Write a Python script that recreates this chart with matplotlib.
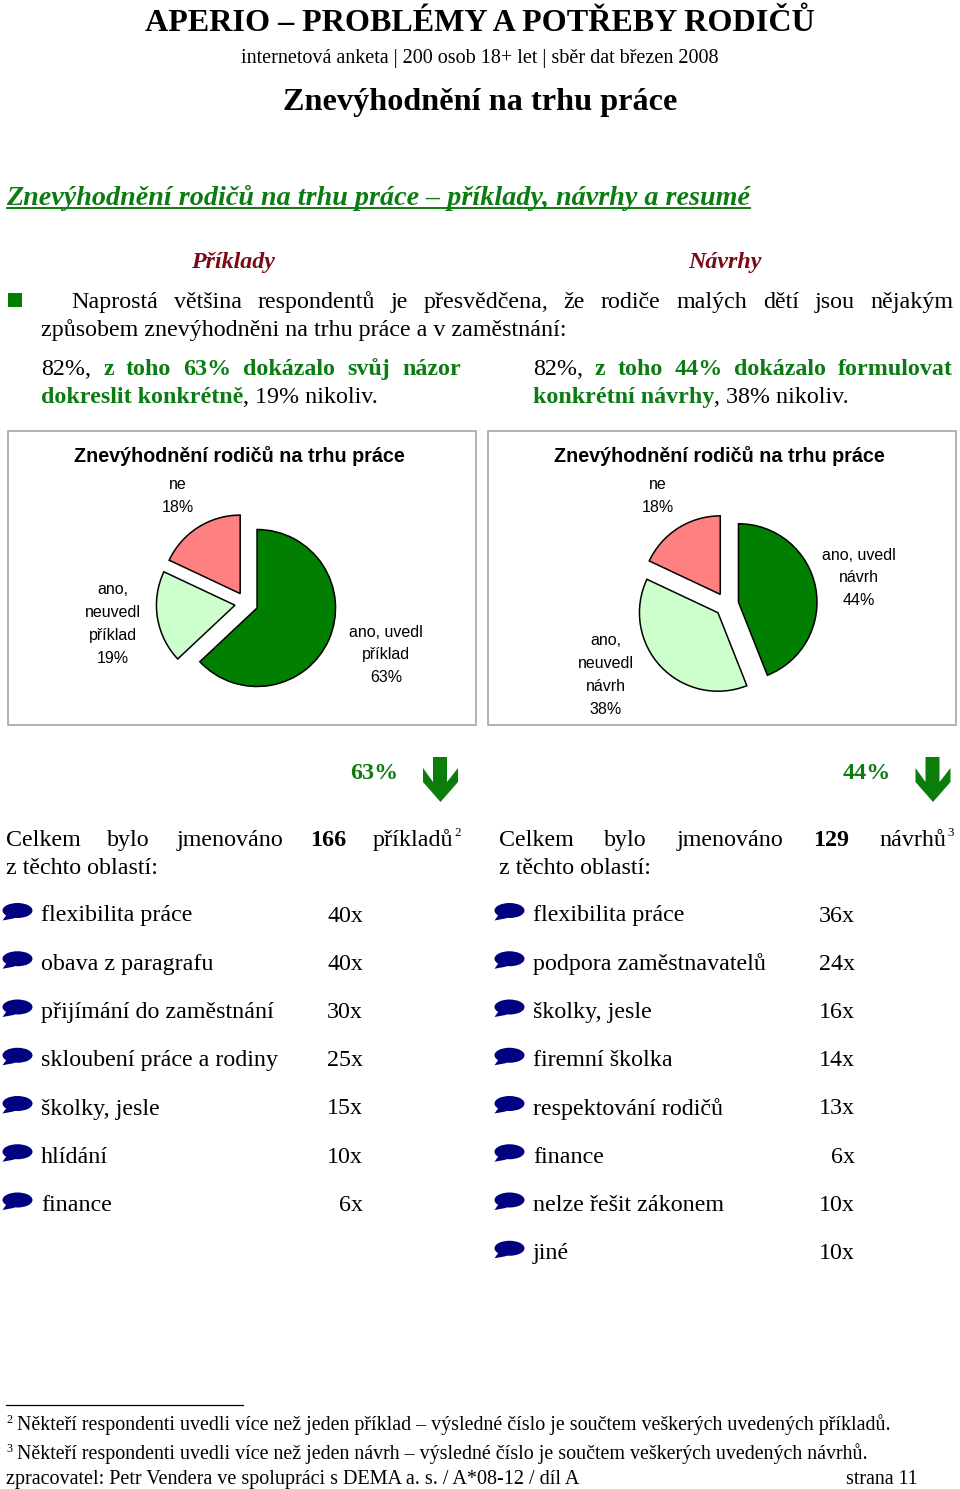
import matplotlib
matplotlib.use("Agg")
import matplotlib.pyplot as plt
from matplotlib.patches import Ellipse, Polygon, Rectangle

W, H = 960, 1489
SERIF = "Liberation Serif"
SANS = "Liberation Sans"
GREEN = "#0a7c12"
DARK_RED = "#7a0a16"
NAVY = "#000080"

# pie data
pie_colors = ["#007f00", "#ccffcc", "#ff8080"]
left_values = [63, 19, 18]
right_values = [44, 38, 18]
left_labels = ["ano, uvedl\npříklad\n63%", "ano,\nneuvedl\npříklad\n19%", "ne\n18%"]
right_labels = ["ano, uvedl\nnávrh\n44%", "ano,\nneuvedl\nnávrh\n38%", "ne\n18%"]

# list data
left_items = ["flexibilita práce", "obava z paragrafu", "přijímání do zaměstnání",
              "skloubení práce a rodiny", "školky, jesle", "hlídání", "finance"]
left_counts = [40, 40, 30, 25, 15, 10, 6]
right_items = ["flexibilita práce", "podpora zaměstnavatelů", "školky, jesle", "firemní školka",
               "respektování rodičů", "finance", "nelze řešit zákonem", "jiné"]
right_counts = [36, 24, 16, 14, 13, 6, 10, 10]

fig = plt.figure(figsize=(W / 100, H / 100), dpi=100)
ax = fig.add_axes([0, 0, 1, 1])
ax.set_xlim(0, W)
ax.set_ylim(H, 0)
ax.axis("off")

# second axes with y going up, pie angles stay normal there
pie_ax = fig.add_axes([0, 0, 1, 1])
pie_ax.set_xlim(0, W)
pie_ax.set_ylim(0, H)
pie_ax.axis("off")
pie_ax.patch.set_alpha(0)


def txt(x, y, s, size=17, family=SERIF, **kw):
    kw.setdefault("va", "baseline")
    kw.setdefault("color", "black")
    return ax.text(x, y, s, fontsize=size * 0.72, family=family, **kw)


def justified(words, x0, x1, y, size=24):
    # words spread out between x0 and x1, like the justified paragraphs in the source
    rend = fig.canvas.get_renderer()
    items = []
    for w in words:
        s, style = w if isinstance(w, tuple) else (w, {})
        items.append(txt(0, y, s, size, **style))
    widths = [t.get_window_extent(rend).width for t in items]
    gap = (x1 - x0 - sum(widths)) / (len(items) - 1)
    x = x0
    for t, w in zip(items, widths):
        t.set_x(x)
        x += w + gap


def pie_chart(values, cx, cy, explode):
    # explode is in data units here, so pixels
    pie_ax.pie(values, colors=pie_colors, radius=78.5, center=(cx, H - cy), startangle=90,
               counterclock=False, explode=[explode] * 3, frame=True,
               wedgeprops={"edgecolor": "black", "linewidth": 1.1})
    pie_ax.set_xlim(0, W)
    pie_ax.set_ylim(0, H)
    pie_ax.axis("off")


def bubble(cx, cy):
    ax.add_patch(Ellipse((cx, cy), 30, 15, color=NAVY, lw=0))
    ax.add_patch(Polygon([(cx - 10, cy + 3), (cx - 15, cy + 10), (cx - 4, cy + 8), (cx, cy + 5)],
                         color=NAVY, lw=0))


def arrow(x):
    pts = [(x + 10, 757), (x + 24, 757), (x + 24, 782), (x + 35, 768), (x + 35, 782),
           (x + 17.5, 802), (x, 782), (x, 768), (x + 10, 782)]
    ax.add_patch(Polygon(pts, color="#0a7d0a", lw=0))


# header
txt(480, 31, "APERIO – PROBLÉMY A POTŘEBY RODIČŮ", 32.2, ha="center", weight="bold")
txt(480, 63, "internetová anketa | 200 osob 18+ let | sběr dat březen 2008", 20.1, ha="center")
txt(480, 110, "Znevýhodnění na trhu práce", 32.3, ha="center", weight="bold")
txt(6.5, 205, "Znevýhodnění rodičů na trhu práce – příklady, návrhy a resumé", 28.1,
    color=GREEN, style="italic", weight="bold")
ax.plot([7, 750], [207.5, 207.5], color=GREEN, lw=1.4)
txt(233, 268, "Příklady", 24, ha="center", color=DARK_RED, style="italic", weight="bold")
txt(725, 268, "Návrhy", 24, ha="center", color=DARK_RED, style="italic", weight="bold")

# intro text
ax.add_patch(Rectangle((8, 293), 14, 14, color="#007f00", lw=0))
justified("Naprostá většina respondentů je přesvědčena, že rodiče malých dětí jsou nějakým".split(),
          71, 953, 308)
txt(41, 336, "způsobem znevýhodněni na trhu práce a v zaměstnání:", 24)

bold_green = {"color": GREEN, "weight": "bold"}
justified(["82%,"] + [(w, bold_green) for w in "z toho 63% dokázalo svůj názor".split()], 41, 461, 375)
t = txt(41, 403, "dokreslit konkrétně", 24, **bold_green)
fig.canvas.draw()
x_end = t.get_window_extent(fig.canvas.get_renderer()).x1
txt(x_end, 403, ", 19% nikoliv.", 24)
justified(["82%,"] + [(w, bold_green) for w in "z toho 44% dokázalo formulovat".split()], 533, 953, 375)
t = txt(533, 403, "konkrétní návrhy", 24, **bold_green)
x_end = t.get_window_extent(fig.canvas.get_renderer()).x1
txt(x_end, 403, ", 38% nikoliv.", 24)

# chart frames
for x0 in [8, 488]:
    ax.add_patch(Rectangle((x0, 431), 468, 294, fc="none", ec="#a6a6a6", lw=1.2))
    txt(x0 + 231.5, 462, "Znevýhodnění rodičů na trhu práce", 19.8, SANS, ha="center", weight="bold")

pie_chart(left_values, 246.4, 603.4, 11.6)
pie_chart(right_values, 726.7, 604.5, 12)

for (x, y), s in zip([(386, 655), (113, 624), (178, 496)], left_labels):
    txt(x, y, s, 16, SANS, ha="center", va="center", linespacing=1.64)
for (x, y), s in zip([(859, 578), (606, 675), (658, 496)], right_labels):
    txt(x, y, s, 16, SANS, ha="center", va="center", linespacing=1.64)

# percent + arrow
txt(374, 779, "63%", 24, ha="center", **bold_green)
txt(867, 779, "44%", 24, ha="center", **bold_green)
arrow(423)
arrow(915.5)

# totals
justified(["Celkem", "bylo", "jmenováno", ("166", {"weight": "bold"}), "příkladů"], 6, 453, 846)
txt(454, 836, "2", 13)
txt(6, 874, "z těchto oblastí:", 24)
justified(["Celkem", "bylo", "jmenováno", ("129", {"weight": "bold"}), "návrhů"], 499, 946, 846)
txt(947, 836, "3", 13)
txt(499, 874, "z těchto oblastí:", 24)

# lists
row_h = 48.25
for i, (name, n) in enumerate(zip(left_items, left_counts)):
    y = 921.5 + i * row_h
    bubble(17.5, y - 11)
    txt(41, y, name, 24)
    txt(363, y, f"{n}x", 24, ha="right")
for i, (name, n) in enumerate(zip(right_items, right_counts)):
    y = 921.5 + i * row_h
    bubble(509.5, y - 11)
    txt(533, y, name, 24)
    txt(855, y, f"{n}x", 24, ha="right")

# footnotes
ax.plot([6, 243], [1405, 1405], color="black", lw=0.9)
txt(6, 1423, "2", 12)
txt(17, 1430, "Někteří respondenti uvedli více než jeden příklad – výsledné číslo je součtem veškerých uvedených příkladů.", 20.05)
txt(6, 1452, "3", 12)
txt(17, 1459, "Někteří respondenti uvedli více než jeden návrh – výsledné číslo je součtem veškerých uvedených návrhů.", 20.05)
txt(6, 1484, "zpracovatel: Petr Vendera ve spolupráci s DEMA a. s. / A*08-12 / díl A", 20.1)
txt(846, 1484, "strana 11", 20)

fig.savefig("out.png", dpi=100, facecolor="white")
